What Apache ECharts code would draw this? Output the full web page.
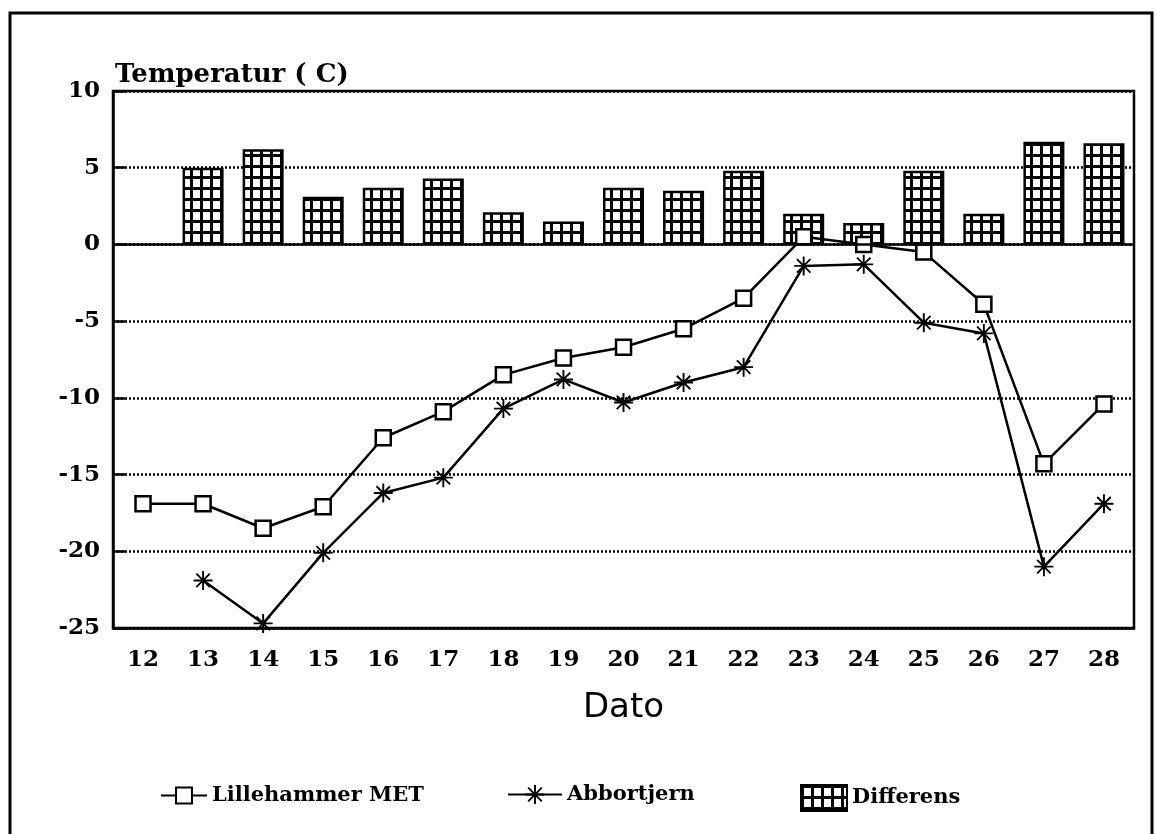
<!DOCTYPE html>
<html>
<head>
<meta charset="utf-8">
<script src="https://cdn.jsdelivr.net/npm/echarts@6/dist/echarts.min.js"></script>
<style>
  html, body { margin: 0; padding: 0; background: #fff; }
  #chart { width: 1156px; height: 834px; }
</style>
</head>
<body>
<div id="chart"></div>
<script>
// dager (x-akse)
var days = ['12', '13', '14', '15', '16', '17', '18', '19', '20', '21', '22', '23', '24', '25', '26', '27', '28'];
// Lillehammer MET
var metVals = [-16.9, -16.9, -18.5, -17.1, -12.6, -10.9, -8.5, -7.4, -6.7, -5.5, -3.5, 0.5, 0.0, -0.5, -3.9, -14.3, -10.4];
// Abbortjern
var abbVals = [null, -21.9, -24.7, -20.1, -16.2, -15.2, -10.7, -8.8, -10.3, -9.0, -8.0, -1.4, -1.3, -5.1, -5.8, -21.0, -16.9];
// Differens
var diffVals = [null, 5.0, 6.2, 3.1, 3.7, 4.3, 2.1, 1.5, 3.7, 3.5, 4.8, 2.0, 1.4, 4.8, 2.0, 6.7, 6.6];

var FONT = 'DejaVu Serif';

// rutemønster for søylene
function makeGrid(w, h) {
    var c = document.createElement('canvas');
    c.width = w;
    c.height = h;
    var ctx = c.getContext('2d');
    ctx.fillStyle = '#fff';
    ctx.fillRect(0, 0, w, h);
    ctx.fillStyle = '#000';
    ctx.fillRect(0, 0, 3, h);
    ctx.fillRect(0, 0, w, 3);
    return c;
}
var gridPattern = { image: makeGrid(10, 11), repeat: 'repeat' };

// stjerne-symbol
var starPath = 'path://M0 9L20 9L20 11L0 11Z M9 0L11 0L11 20L9 20Z ' +
    'M2.2 3.6L3.6 2.2L17.8 16.4L16.4 17.8Z M16.4 2.2L17.8 3.6L3.6 17.8L2.2 16.4Z';

var chart = echarts.init(document.getElementById('chart'));

var legendText = { fontFamily: FONT, fontWeight: 'bold', fontSize: 21, color: '#000' };

var option = {
    animation: false,
    backgroundColor: '#fff',
    title: {
        text: 'Temperatur ( C)',
        left: 110,
        top: 57,
        textStyle: { fontFamily: FONT, fontWeight: 'bold', fontSize: 26, color: '#000' }
    },
    graphic: [{
        type: 'rect',
        shape: { x: 10, y: 13, width: 1142, height: 840 },
        style: { fill: 'none', stroke: '#000', lineWidth: 3 },
        silent: true
    }],
    legend: [{
        data: ['Lillehammer MET'],
        left: 155,
        top: 780,
        itemWidth: 46,
        itemHeight: 20,
        itemGap: 8,
        textStyle: legendText
    }, {
        data: ['Abbortjern'],
        left: 502,
        top: 779,
        itemWidth: 54,
        itemHeight: 24,
        itemGap: 8,
        textStyle: legendText
    }, {
        data: [{ name: 'Differens', icon: 'rect' }],
        left: 795,
        top: 779,
        itemWidth: 46,
        itemHeight: 26,
        itemGap: 4,
        textStyle: legendText
    }],
    grid: {
        left: 113,
        right: 22,
        top: 91,
        bottom: 206,
        show: true,
        borderColor: '#000',
        borderWidth: 2.5
    },
    xAxis: {
        type: 'category',
        data: days,
        boundaryGap: true,
        name: 'Dato',
        nameLocation: 'middle',
        nameGap: 63,
        nameTextStyle: { fontFamily: 'DejaVu Sans', fontSize: 34, color: '#000' },
        axisLine: { onZero: false, lineStyle: { color: '#000', width: 2.5 } },
        axisTick: { inside: true, alignWithLabel: true, length: 12, lineStyle: { color: '#000', width: 2.5 } },
        axisLabel: { margin: 21, fontFamily: FONT, fontWeight: 'bold', fontSize: 23, color: '#000' },
        splitLine: { show: false }
    },
    yAxis: {
        type: 'value',
        min: -25,
        max: 10,
        interval: 5,
        axisLine: { show: true, lineStyle: { color: '#000', width: 2.5 } },
        axisTick: { show: true, inside: true, length: 12, lineStyle: { color: '#000', width: 2.5 } },
        axisLabel: { margin: 13, fontFamily: FONT, fontWeight: 'bold', fontSize: 23, color: '#000' },
        splitLine: { show: true, lineStyle: { color: '#000', width: 2.5, type: [2, 2] } }
    },
    series: [{
        name: 'Differens',
        type: 'bar',
        data: diffVals,
        barWidth: 41,
        itemStyle: { color: gridPattern, borderColor: '#000', borderWidth: 2.5 },
        markLine: {
            silent: true,
            symbol: ['none', 'none'],
            label: { show: false },
            lineStyle: { color: '#000', width: 2.5, type: 'solid' },
            data: [{ yAxis: 0 }]
        }
    }, {
        name: 'Lillehammer MET',
        type: 'line',
        data: metVals,
        symbol: 'rect',
        symbolSize: 15,
        showAllSymbol: true,
        lineStyle: { color: '#000', width: 2.5 },
        itemStyle: { color: '#fff', borderColor: '#000', borderWidth: 2.5 }
    }, {
        name: 'Abbortjern',
        type: 'line',
        data: abbVals,
        symbol: starPath,
        symbolSize: 19,
        showAllSymbol: true,
        lineStyle: { color: '#000', width: 2.5 },
        itemStyle: { color: '#000' }
    }]
};

chart.setOption(option);
</script>
</body>
</html>
